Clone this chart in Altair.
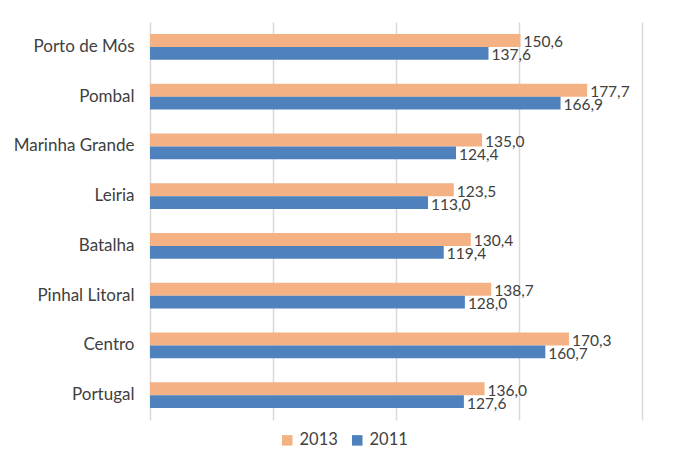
import altair as alt
import pandas as pd

categories = ["Porto de Mós", "Pombal", "Marinha Grande", "Leiria", "Batalha",
              "Pinhal Litoral", "Centro", "Portugal"]
v2013 = [150.6, 177.7, 135.0, 123.5, 130.4, 138.7, 170.3, 136.0]
v2011 = [137.6, 166.9, 124.4, 113.0, 119.4, 128.0, 160.7, 127.6]
years = ["2013", "2011"]
colors = ["#F4B183", "#4F81BD"]

rows = []
for c, a, b in zip(categories, v2013, v2011):
    rows.append({"cat": c, "year": "2013", "value": a, "label": f"{a:.1f}".replace(".", ",")})
    rows.append({"cat": c, "year": "2011", "value": b, "label": f"{b:.1f}".replace(".", ",")})
df = pd.DataFrame(rows)

FONT = "Lato"

base = alt.Chart(df).encode(
    y=alt.Y("cat:N", sort=categories, title=None,
            scale=alt.Scale(paddingInner=0.48, paddingOuter=0.24),
            axis=alt.Axis(ticks=False, domain=False, labelFontSize=17, labelColor="#404040",
                          labelFont=FONT, labelPadding=16)),
    yOffset=alt.YOffset("year:N", sort=years, scale=alt.Scale(paddingInner=0, paddingOuter=0)),
)

bars = base.mark_bar().encode(
    x=alt.X("value:Q", title=None, scale=alt.Scale(domain=[0, 200], nice=False),
            axis=alt.Axis(values=[0, 50, 100, 150, 200], labels=False, ticks=False, domain=False,
                          grid=True, gridColor="#D9D9D9", gridWidth=1.5)),
    color=alt.Color("year:N", sort=years,
                    scale=alt.Scale(domain=years, range=colors),
                    legend=alt.Legend(title=None, orient="none", direction="horizontal",
                                      legendX=129, legendY=410, symbolType="square",
                                      symbolSize=110, symbolStrokeWidth=0,
                                      labelFontSize=16.5, labelColor="#404040", labelFont=FONT,
                                      columnPadding=11, labelOffset=4)),
)

texts = base.mark_text(align="left", baseline="middle", dx=3, dy=2, fontSize=15.5,
                       color="#404040", font=FONT).encode(
    x="value:Q",
    text="label:N",
)

chart = (bars + texts).properties(
    width=492, height=398,
    autosize=alt.AutoSizeParams(type="none"),
    padding={"left": 142, "top": 14, "right": 23, "bottom": 31},
).configure_view(stroke=None)

chart.save("out.html", embed_options={"renderer": "svg", "actions": False})
